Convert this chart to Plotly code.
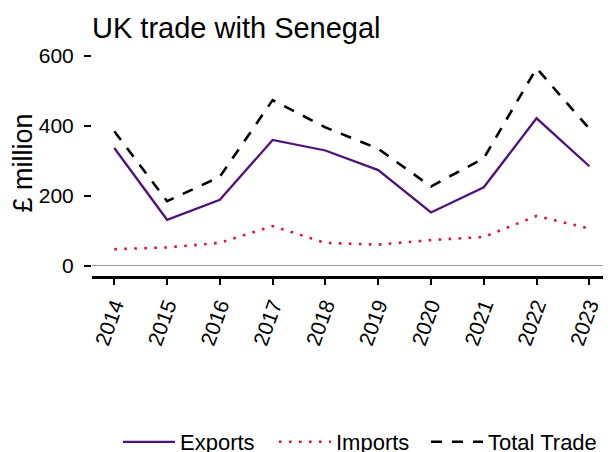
import plotly.graph_objects as go

years = [2014, 2015, 2016, 2017, 2018, 2019, 2020, 2021, 2022, 2023]
exports = [337, 132, 189, 360, 330, 274, 153, 225, 422, 285]
imports = [48, 53, 66, 114, 66, 61, 74, 83, 143, 107]
total_trade = [385, 185, 255, 474, 396, 335, 227, 308, 565, 392]

FONT = "Liberation Sans, Arial, sans-serif"
PURPLE = "#4f127d"
CRIMSON = "#dc143c"

# the page body has an 8px margin, so the figure is drawn 8px smaller
W, H = 603, 444

fig = go.Figure()
fig.add_trace(go.Scatter(
    x=years, y=exports, mode="lines", name="Exports",
    line=dict(color=PURPLE, width=2.3),
))
fig.add_trace(go.Scatter(
    x=years, y=imports, mode="lines", name="Imports",
    line=dict(color=CRIMSON, width=2.6, dash="2.6px,7.4px"),
))
fig.add_trace(go.Scatter(
    x=years, y=total_trade, mode="lines", name="Total Trade",
    line=dict(color="black", width=2.6, dash="11px,10px"),
    legend="legend2",
))

legend_common = dict(
    orientation="h",
    y=10 / H, yanchor="middle", yref="container",
    font=dict(size=22, color="black"),
    itemwidth=52,
    bgcolor="rgba(0,0,0,0)",
)

fig.update_layout(
    width=W,
    height=H,
    plot_bgcolor="white",
    paper_bgcolor="white",
    font=dict(family=FONT, color="black"),
    margin=dict(l=84, r=0, t=42, b=176, autoexpand=False),
    title=dict(
        text="UK trade with Senegal",
        font=dict(size=29, color="black"),
        x=84 / W, xanchor="left", xref="container",
        y=(H - 20) / H, yanchor="middle", yref="container",
        automargin=False,
    ),
    showlegend=True,
    legend=dict(
        x=(110 - 84) / 519, xanchor="left",
        entrywidth=89, entrywidthmode="pixels",
        **legend_common,
    ),
    legend2=dict(
        x=(418 - 84) / 519, xanchor="left",
        **legend_common,
    ),
    hovermode=False,
)

fig.update_xaxes(
    range=[2013.578, 2023.41],
    tickmode="array",
    tickvals=years,
    ticktext=[str(y) for y in years],
    tickangle=-70,
    tickfont=dict(size=21, color="black"),
    ticks="outside", ticklen=6, tickwidth=2, tickcolor="black",
    showline=True, linecolor="black", linewidth=3,
    showgrid=False, zeroline=False, automargin=False,
)
fig.update_yaxes(
    range=[-28.6, 617.1],
    tickvals=[0, 200, 400, 600],
    tickfont=dict(size=21, color="black"),
    ticks="outside", ticklen=7, tickwidth=2, tickcolor="black",
    ticklabelstandoff=6,
    showline=False, showgrid=False, automargin=False,
    zeroline=True, zerolinecolor="#9a9a9a", zerolinewidth=1.2,
    title=dict(text="£ million", font=dict(size=27, color="black"), standoff=8),
)

fig.write_html("out.html")
